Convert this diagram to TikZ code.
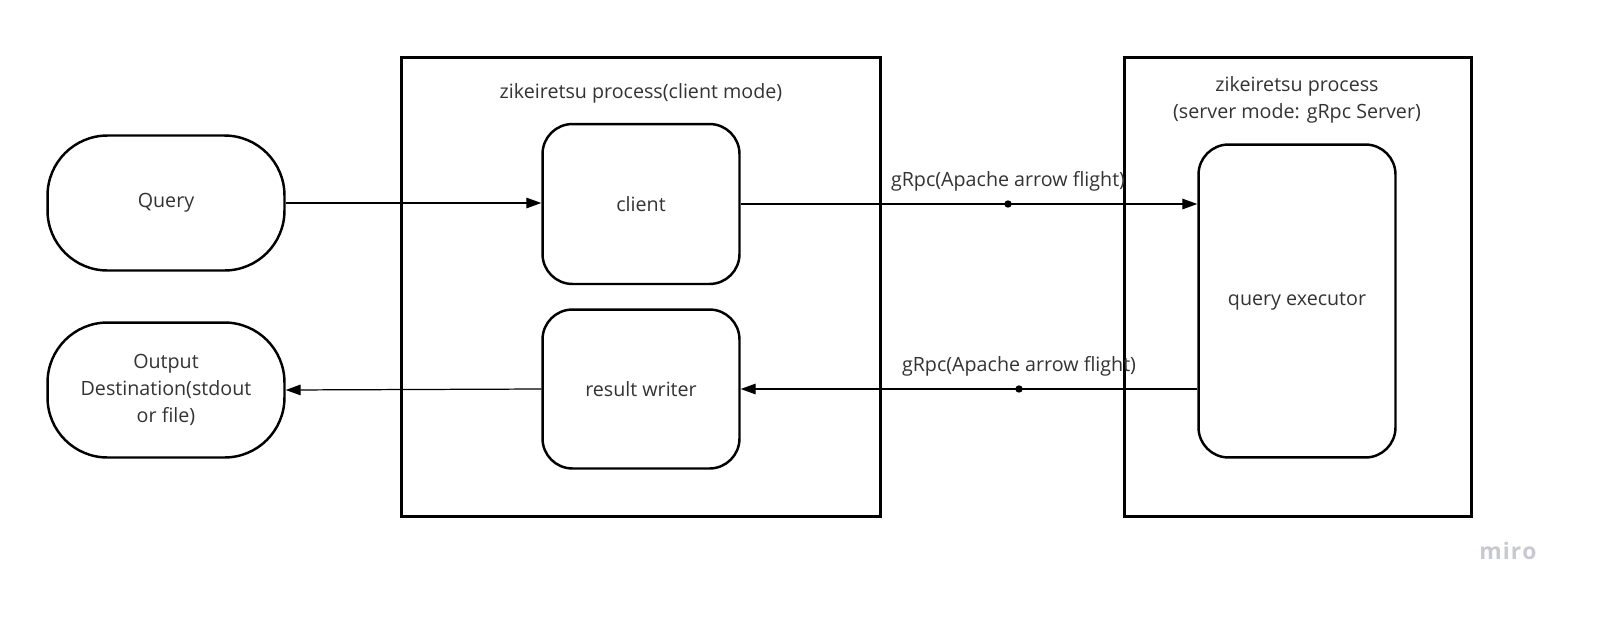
\documentclass[tikz,border=0pt]{standalone}
\usepackage{fontspec}
\setmainfont{Open Sans}
\usetikzlibrary{arrows.meta}
\definecolor{txtgray}{HTML}{333333}
\definecolor{mirogray}{HTML}{C8C8D2}
\begin{document}
\begin{tikzpicture}[x=0.02cm, y=-0.02cm,
  font=\fontsize{11.2}{15.3}\selectfont, text=txtgray,
  terminal/.style={draw, line width=1.4pt, rounded corners=1.2cm, inner sep=0pt, minimum width=4.74cm, minimum height=2.7cm, align=center},
  procbox/.style={draw, line width=1.7pt, inner sep=0pt},
  stepbox/.style={draw, line width=1.4pt, rounded corners=0.6cm, inner sep=0pt, minimum width=3.94cm, align=center},
  dot/.style={circle, fill, inner sep=0pt, minimum size=4.2pt},
  link/.style={line width=0.7pt, -{Triangle[length=8.5pt,width=6pt]}}]
\useasboundingbox (0,0) rectangle (1622,616);
\node[procbox, minimum width=9.6cm, minimum height=9.2cm] (cproc) at (641,287){};
\node[procbox, minimum width=6.96cm, minimum height=9.2cm] (sproc) at (1298,287){};
\node[] (ctitle) at (641,93){zikeiretsu process(client mode)};
\node[align=center] (stitle) at (1297,100){zikeiretsu process\\(server mode: gRpc Server)};
\node[terminal] (query) at (166,203){Query};
\node[terminal] (out) at (166,390){Output\\Destination(stdout\\or file)};
\node[stepbox, minimum height=3.2cm] (client) at (641,204){client};
\node[stepbox, minimum height=3.18cm] (rw) at (641,389){result writer};
\node[stepbox, minimum height=6.26cm] (qe) at (1297,301){query executor};
\draw[link](query.east) -- (query.east -| client.west);
\draw[link](client.east) -- (client.east -| qe.west);
\draw[link](qe.west |- rw.east) -- (rw.east);
\draw[link](rw.west) -- (out.east);
\node[dot] (d1) at (1008,204){};
\node[dot] (d2) at (1019,389){};
\node[above=3.5pt] (l1) at (d1){gRpc(Apache arrow flight)};
\node[above=3.5pt] (l2) at (d2){gRpc(Apache arrow flight)};
\node[text=mirogray, font=\fontsize{13}{15}\bfseries] (miro) at (1508,551){m\kern.6pt i\kern.6pt r\kern.6pt o};
\end{tikzpicture}
\end{document}
